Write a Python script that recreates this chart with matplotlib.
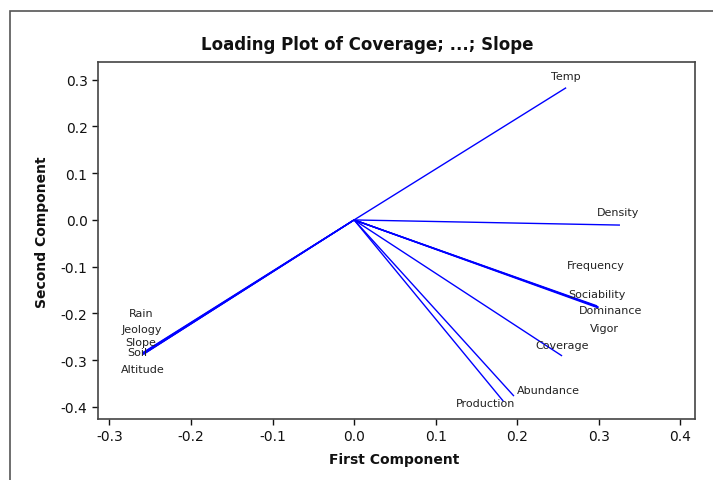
import matplotlib
matplotlib.use("Agg")
import matplotlib.pyplot as plt
from matplotlib.patches import Rectangle

# Loadings (first component, second component)
variables = ["Coverage", "Abundance", "Production", "Frequency", "Sociability",
             "Dominance", "Vigor", "Density", "Temp", "Rain", "Jeology",
             "Slope", "Soil", "Altitude"]
pc1 = [0.255, 0.196, 0.183, 0.298, 0.299, 0.300, 0.299, 0.326, 0.260,
       -0.259, -0.258, -0.259, -0.258, -0.259]
pc2 = [-0.291, -0.377, -0.388, -0.184, -0.186, -0.187, -0.188, -0.011, 0.283,
       -0.284, -0.286, -0.285, -0.287, -0.288]

xticks = [-0.3, -0.2, -0.1, 0.0, 0.1, 0.2, 0.3, 0.4]
yticks = [-0.4, -0.3, -0.2, -0.1, 0.0, 0.1, 0.2, 0.3]

title = "Loading Plot of Coverage; ...; Slope"
xlabel = "First Component"
ylabel = "Second Component"

# label offsets (pixels) from line end, layout only
label_offsets = {
    "Coverage": (0, 11), "Abundance": (34, 6), "Production": (-18, -2),
    "Frequency": (-1, 41), "Sociability": (-1, 13), "Dominance": (12, -3),
    "Vigor": (6, -20), "Density": (-2, 13), "Temp": (0, 12),
    "Rain": (-2, 40), "Jeology": (-2, 25), "Slope": (-2, 11),
    "Soil": (-6, 2), "Altitude": (0, -14),
}

plt.rcParams["font.family"] = ["DejaVu Sans"]
fig = plt.figure(figsize=(7.13, 4.81), dpi=100)
W, H = 713, 481
ax = fig.add_axes([98 / W, 1 - 420 / H, (695 - 98) / W, (420 - 63) / H])

# outer frame
fig.patches.append(Rectangle((10 / W, -0.1), 1.2, 1 - 12 / H + 0.1,
                             transform=fig.transFigure, fill=False,
                             edgecolor="#555555", linewidth=1.2))

for name, x, y in zip(variables, pc1, pc2):
    ax.plot([0, x], [0, y], color="#0000ff", linewidth=1.0, solid_capstyle="butt")
    dx, dy = label_offsets[name]
    ax.annotate(name, (x, y), xytext=(dx, dy), textcoords="offset pixels",
                ha="center", va="center", fontsize=8, color="#222222")

ax.set_xlim(-0.314, 0.418)
ax.set_ylim(-0.426, 0.338)
ax.set_xticks(xticks)
ax.set_yticks(yticks)
ax.set_xticklabels([f"{t:.1f}" for t in xticks])
ax.set_yticklabels([f"{t:.1f}" for t in yticks])
ax.tick_params(direction="out", length=4, width=1, labelsize=10, colors="#111111")
for s in ax.spines.values():
    s.set_color("#444444")
    s.set_linewidth(1.2)

fig.text(367 / W, 1 - 45 / H, title, ha="center", va="center",
         fontsize=12, fontweight="bold", color="#111111")
fig.text(394 / W, 1 - 460 / H, xlabel, ha="center", va="center",
         fontsize=10, fontweight="bold", color="#111111")
fig.text(42 / W, 1 - 232 / H, ylabel, ha="center", va="center", rotation=90,
         fontsize=10, fontweight="bold", color="#111111")

fig.savefig("out.png", dpi=100)
